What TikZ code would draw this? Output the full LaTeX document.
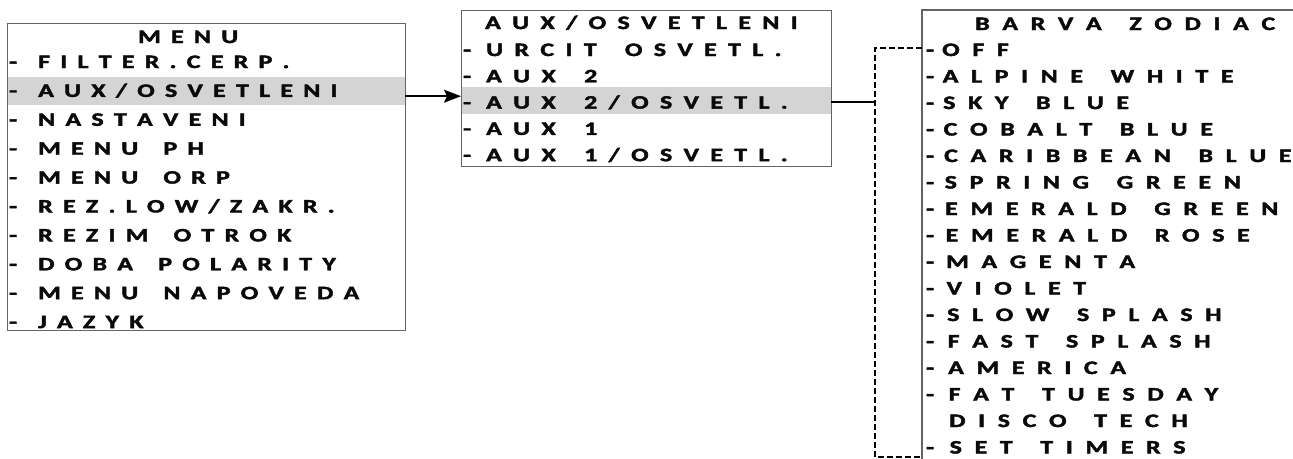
\documentclass[tikz,border=0pt]{standalone}
\usepackage{fontspec}
\usepackage{graphicx}
\usetikzlibrary{arrows.meta,calc}
\newfontfamily\heavyfont{Carlito}[UprightFont={* Bold},BoldFont={* Bold},FakeBold=2]
\newdimen\myLetGap
\newdimen\myWordGap
\def\spacedend{\spacedendmark}
\newcommand\spaced[1]{\spacedloop#1\spacedend}
\def\spacedloop#1{\ifx#1\spacedend\else\spacedchar#1\expandafter\spacedloop\fi}
\def\spacedchar#1{\ifx#1~\hspace*{\myWordGap}\else\scalebox{1.36}[1]{#1}\kern\myLetGap\fi}
\newcommand\spA[1]{\myLetGap=10.3pt\relax\myWordGap=15pt\relax\spaced{#1}}
\newcommand\spB[1]{\myLetGap=11.4pt\relax\myWordGap=17pt\relax\spaced{#1}}
\newcommand\spC[1]{\myLetGap=12.7pt\relax\myWordGap=15pt\relax\spaced{#1}}
\definecolor{hl}{RGB}{212,212,212}
\definecolor{bord}{RGB}{100,100,100}
\definecolor{ink}{RGB}{10,10,10}
\begin{document}
\begin{tikzpicture}[x=1pt,y=-1pt,
  frame/.style={draw=bord,line width=1.3pt,inner sep=0pt,anchor=north west},
  hlbar/.style={fill=hl,draw=none,inner sep=0pt,anchor=north west},
  txt/.style={anchor=base west,inner sep=0pt,text=ink,font=\heavyfont\fontsize{19}{21}\selectfont},
  conn/.style={draw=black,line width=1.5pt},
  dashconn/.style={draw=black,line width=1.4pt,dash pattern=on 6pt off 3pt}]
\useasboundingbox (0,0) rectangle (1293,458);
% highlight bars
\node[hlbar,minimum width=398pt,minimum height=28pt] (hm) at (7,77) {};
\node[hlbar,minimum width=370pt,minimum height=27pt] (ha) at (461,87) {};
% frames
\node[frame,minimum width=398pt,minimum height=307pt] (menu) at (7,23) {};
\node[frame,minimum width=370pt,minimum height=156pt] (aux) at (461,10) {};
\node[inner sep=0pt,anchor=north west,minimum width=400pt,minimum height=470pt] (zod) at (922,10) {};
\draw[draw=bord,line width=1.3pt] (zod.north east) -- (zod.north west) -- (zod.south west);
% box 1 text
\node[txt] (mt) at (138,43) {\spA{MENU}};
\foreach \t [count=\i] in {FILTER.CERP.,AUX/OSVETLENI,NASTAVENI,MENU~PH,MENU~ORP,REZ.LOW/ZAKR.,REZIM~OTROK,DOBA~POLARITY,MENU~NAPOVEDA,JAZYK}{
  \node[txt] (mh\i) at (9,{62+28.9*(\i-1)+6}) {\spA{-}};
  \node[txt] (m\i) at (38,{62+28.9*(\i-1)+6}) {\expandafter\spA\expandafter{\t}};
}
% box 2 text
\node[txt] (at) at (485,29) {\spB{AUX/OSVETLENI}};
\foreach \t [count=\i] in {URCIT~OSVETL.,AUX~2,AUX~2/OSVETL.,AUX~1,AUX~1/OSVETL.}{
  \node[txt] (ah\i) at (463,{50+26.3*(\i-1)+6}) {\spB{-}};
  \node[txt] (a\i) at (486,{50+26.3*(\i-1)+6}) {\expandafter\spB\expandafter{\t}};
}
% box 3 text
\node[txt] (zt) at (975,30) {\spC{BARVA~ZODIAC}};
\foreach \t [count=\i] in {OFF,ALPINE~WHITE,SKY~BLUE,COBALT~BLUE,CARIBBEAN~BLUE,SPRING~GREEN,EMERALD~GREEN,EMERALD~ROSE,MAGENTA,VIOLET,SLOW~SPLASH,FAST~SPLASH,AMERICA,FAT~TUESDAY,DISCO~TECH,SET~TIMERS}{
  \ifnum\i=15\relax\else
    \node[txt] (zh\i) at (926,{50+26.5*(\i-1)+6}) {\spC{-}};
  \fi
  \node[txt] (z\i) at ({942+0.5*(\i-1)},{50+26.5*(\i-1)+6}) {\expandafter\spC\expandafter{\t}};
}
% connectors
\draw[conn,-{Stealth[length=17pt,width=13pt,inset=3pt]}] ([yshift=-5pt]hm.east) -- ([yshift=-5pt]hm.east -| aux.west);
\coordinate (jn) at (875,102);
\draw[conn] (jn -| ha.east) -- (jn);
\coordinate (dt) at (875,48);
\coordinate (db) at (875,457);
\draw[dashconn] (dt -| zod.west) -- (dt) -- (db) -- (db -| zod.west);
\end{tikzpicture}
\end{document}
